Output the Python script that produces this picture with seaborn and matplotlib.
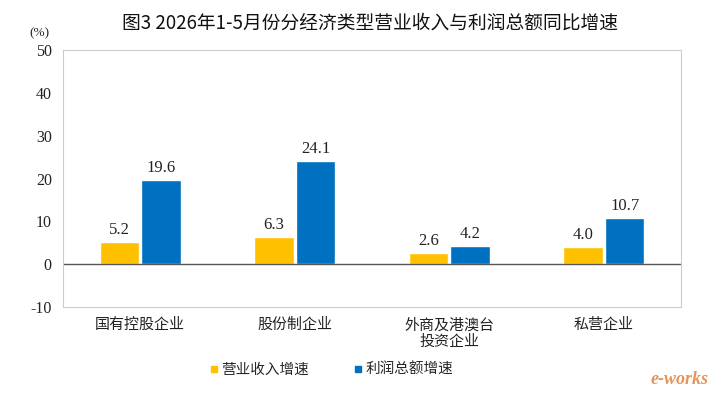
import matplotlib
matplotlib.use("Agg")
import matplotlib.pyplot as plt
import pandas as pd
import seaborn as sns

# Datos
categorias = ["国有控股企业", "股份制企业", "外商及港澳台\n投资企业", "私营企业"]
series = ["营业收入增速", "利润总额增速"]
ingresos = [5.2, 6.3, 2.6, 4.0]
beneficios = [19.6, 24.1, 4.2, 10.7]
yticks = [-10, 0, 10, 20, 30, 40, 50]

df = pd.DataFrame({
    "categoria": categorias * 2,
    "serie": [series[0]] * 4 + [series[1]] * 4,
    "valor": ingresos + beneficios,
})

sns.set_style("white")
plt.rcParams["font.family"] = ["Noto Sans CJK SC", "DejaVu Sans"]
num_font = ["Liberation Serif", "Noto Sans CJK SC"]

fig = plt.figure(figsize=(7.19, 3.95), dpi=100)
ax = fig.add_axes([0.0876, 0.223, 0.8596, 0.65])

colores = {series[0]: "#FFC000", series[1]: "#0070C0"}
sns.barplot(data=df, x="categoria", y="valor", hue="serie", palette=colores,
            width=0.54, gap=0.05, ax=ax, legend=False, saturation=1)

for cont in ax.containers:
    ax.bar_label(cont, fmt="%.1f", padding=3, fontsize=12, family=num_font, color="#222222")

ax.set_ylim(-10, 50)
ax.set_yticks(yticks)
ax.set_yticklabels([str(t) for t in yticks], family=num_font, fontsize=11.5, color="#222222")
ax.tick_params(axis="y", direction="in", length=3, color="#bbbbbb", pad=8)
ax.tick_params(axis="x", length=0, pad=8, labelsize=10.8, colors="#222222")
ax.set_xlabel("")
ax.set_ylabel("")
ax.axhline(0, color="#555555", lw=1, zorder=1)
for s in ax.spines.values():
    s.set_color("#cccccc")
    s.set_linewidth(0.8)

fig.text(0.515, 0.942, "图3 2026年1-5月份分经济类型营业收入与利润总额同比增速",
         ha="center", va="center", fontsize=13.5, weight="medium", color="#111111")
fig.text(0.055, 0.915, "(%)", ha="center", va="center", fontsize=9.5, family=num_font, color="#222222")

handles = [plt.Line2D([], [], marker="s", ls="", color=colores[s], markersize=5) for s in series]
fig.legend(handles, series, loc="center", bbox_to_anchor=(0.46, 0.063), ncol=2,
           frameon=False, fontsize=10.5, handletextpad=0.1, columnspacing=3.0,
           handlelength=0.8)

# marca de agua
fig.text(0.985, 0.04, "e-works", ha="right", va="center", fontsize=13,
         style="italic", weight="bold", family="Liberation Serif", color="#E07830", alpha=0.8)

plt.savefig("out.png", dpi=100)
